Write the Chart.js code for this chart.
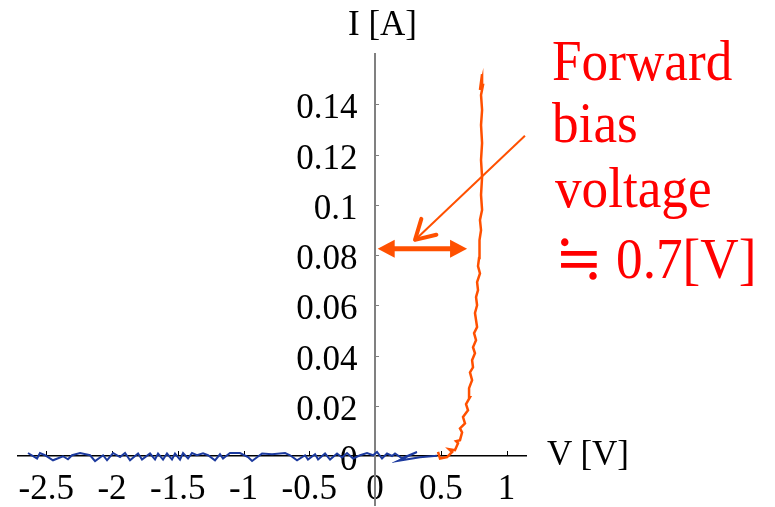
<!DOCTYPE html>
<html>
<head>
<meta charset="utf-8">
<script src="https://cdn.jsdelivr.net/npm/chart.js@4.4.0/dist/chart.umd.min.js"></script>
<style>
html,body{margin:0;padding:0;background:#fff;overflow:hidden;}
#wrap{position:relative;width:775px;height:507px;}
.lbl{position:absolute;font-family:"Liberation Serif","Times New Roman",serif;line-height:1;white-space:nowrap;}
.ax{font-size:35px;color:#000;}
.note{font-size:56px;color:#ff0000;transform:scaleX(0.95);transform-origin:0 0;}
.approx{font-family:"Noto Sans CJK JP","DejaVu Serif",serif;font-size:60px;line-height:0;}
</style>
</head>
<body>
<div id="wrap">
  <canvas id="ivChart"></canvas>
  <div class="lbl ax" style="left:348px;top:6px">I [A]</div>
  <div class="lbl ax" style="left:547px;top:436px">V [V]</div>
  <div class="lbl note" style="left:552px;top:33px">Forward</div>
  <div class="lbl note" style="left:552px;top:95px">bias</div>
  <div class="lbl note" style="left:555px;top:160px">voltage</div>
  <div class="lbl note" style="left:555px;top:231px"><span class="approx">≒</span> 0.7[V]</div>
</div>
<script>
// reverse sweep (blue): voltage [V] / current [A]
var revV = [-2.639,-2.570,-2.548,-2.510,-2.449,-2.373,-2.335,-2.304,-2.243,-2.167,
  -2.129,-2.068,-2.038,-1.992,-1.939,-1.901,-1.863,-1.802,-1.772,-1.711,
  -1.673,-1.650,-1.612,-1.582,-1.544,-1.521,-1.483,-1.460,-1.422,-1.392,
  -1.354,-1.308,-1.270,-1.217,-1.179,-1.156,-1.103,-1.027,-0.966,-0.935,
  -0.859,-0.783,-0.684,-0.646,-0.593,-0.532,-0.510,-0.456,-0.433,-0.380,
  -0.342,-0.289,-0.251,-0.213,-0.167,-0.114,-0.061,-0.015,0.015,0.053,
  0.091,0.129,0.152,0.205,0.319,0.175,0.342,0.471];
var revI = [0.0012,-0.0010,0.0012,0.0003,-0.0017,-0.0001,-0.0013,0.0003,0.0012,0.0003,
  -0.0020,0.0003,-0.0017,0.0012,-0.0004,0.0012,-0.0017,0.0010,-0.0014,0.0010,
  -0.0014,0.0010,-0.0014,0.0010,-0.0014,0.0010,-0.0014,0.0012,-0.0010,0.0012,
  0.0003,0.0011,0.0003,-0.0017,0.0007,-0.0010,0.0012,0.0012,-0.0004,-0.0020,
  0.0010,0.0007,0.0012,0.0003,-0.0017,0.0003,-0.0014,0.0007,-0.0014,0.0010,
  -0.0014,0.0010,-0.0006,0.0012,-0.0010,0.0003,0.0012,0.0003,0.0016,-0.0010,
  0.0010,0.0000,0.0010,-0.0009,0.0016,-0.0019,-0.0005,0.0001];

// forward sweep (orange)
var fwdV = [0.479,0.494,0.548,0.586,0.563,0.608,0.631,0.616,0.646,0.662,
  0.646,0.684,0.669,0.707,0.692,0.722,0.715,0.738,0.722,0.745,
  0.738,0.760,0.745,0.768,0.753,0.776,0.760,0.776,0.768,0.783,
  0.776,0.798,0.783,0.791,0.798,0.791,0.806,0.798,0.814,0.806,
  0.814,0.806,0.814,0.806,0.814,0.806,0.821,0.814,0.798,0.814];
var fwdI = [0.0016,-0.0010,-0.0004,0.0016,0.0027,0.0023,0.0051,0.0059,0.0063,0.0094,
  0.0110,0.0130,0.0155,0.0182,0.0206,0.0234,0.0270,0.0302,0.0333,0.0353,
  0.0381,0.0409,0.0433,0.0461,0.0489,0.0513,0.0569,0.0600,0.0632,0.0660,
  0.0692,0.0727,0.0756,0.0788,0.0819,0.0859,0.0899,0.0939,0.0979,0.1039,
  0.1110,0.1178,0.1246,0.1317,0.1377,0.1437,0.1477,0.1497,0.1457,0.1520];

var xTicks = [-2.5,-2,-1.5,-1,-0.5,0,0.5,1];
var yTicks = [0,0.02,0.04,0.06,0.08,0.1,0.12,0.14];

// annotation arrows, in data units
var spanArrow = {x0:0.02, x1:0.70, y:0.0825};
var pointArrow = {x0:1.14, y0:0.1275, x1:0.304, y1:0.086};

var ORANGE = '#ff5000';

function pairs(xs, ys){
  var out = [];
  for(var i=0;i<xs.length;i++){ out.push({x:xs[i], y:ys[i]}); }
  return out;
}

function solidHead(ctx, tx, ty, ang, len, half){
  var bx = tx - len*Math.cos(ang), by = ty - len*Math.sin(ang);
  ctx.beginPath();
  ctx.moveTo(tx, ty);
  ctx.lineTo(bx + half*Math.sin(ang), by - half*Math.cos(ang));
  ctx.lineTo(bx - half*Math.sin(ang), by + half*Math.cos(ang));
  ctx.closePath();
  ctx.fill();
}

var innerTicks = {
  id:'innerTicks',
  beforeDatasetsDraw: function(chart){
    var ctx = chart.ctx, xs = chart.scales.x, ys = chart.scales.y;
    var ax = xs.getPixelForValue(0), ay = ys.getPixelForValue(0);
    ctx.save();
    ctx.lineWidth = 1;
    ctx.strokeStyle = '#808080';
    for(var i=1;i<yTicks.length;i++){
      var py = Math.round(ys.getPixelForValue(yTicks[i])) + 0.5;
      ctx.beginPath(); ctx.moveTo(ax, py); ctx.lineTo(ax+4, py); ctx.stroke();
    }
    ctx.strokeStyle = '#000';
    for(var j=0;j<xTicks.length;j++){
      if(xTicks[j] === 0) continue;
      var px = Math.round(xs.getPixelForValue(xTicks[j])) + 0.5;
      ctx.beginPath(); ctx.moveTo(px, ay); ctx.lineTo(px, ay-5); ctx.stroke();
    }
    ctx.restore();
  }
};

var arrows = {
  id:'arrows',
  afterDatasetsDraw: function(chart){
    var ctx = chart.ctx, xs = chart.scales.x, ys = chart.scales.y;
    ctx.save();
    ctx.fillStyle = ORANGE;
    ctx.strokeStyle = ORANGE;

    // double-headed span arrow
    var a = xs.getPixelForValue(spanArrow.x0), b = xs.getPixelForValue(spanArrow.x1);
    var y = ys.getPixelForValue(spanArrow.y);
    ctx.lineWidth = 5;
    ctx.beginPath(); ctx.moveTo(a+12, y); ctx.lineTo(b-12, y); ctx.stroke();
    solidHead(ctx, a, y, Math.PI, 17, 9);
    solidHead(ctx, b, y, 0, 17, 9);

    // thin pointer with open head
    var sx = xs.getPixelForValue(pointArrow.x0), sy = ys.getPixelForValue(pointArrow.y0);
    var tx = xs.getPixelForValue(pointArrow.x1), ty = ys.getPixelForValue(pointArrow.y1);
    var ang = Math.atan2(ty-sy, tx-sx);
    ctx.lineWidth = 2;
    ctx.beginPath(); ctx.moveTo(sx, sy); ctx.lineTo(tx, ty); ctx.stroke();
    ctx.lineWidth = 4;
    ctx.lineCap = 'round';
    ctx.lineJoin = 'round';
    ctx.beginPath();
    ctx.moveTo(tx - 22*Math.cos(ang-0.52), ty - 22*Math.sin(ang-0.52));
    ctx.lineTo(tx, ty);
    ctx.lineTo(tx - 22*Math.cos(ang+0.52), ty - 22*Math.sin(ang+0.52));
    ctx.stroke();
    ctx.restore();
  }
};

function noPad(scale){
  scale.paddingLeft = 0; scale.paddingRight = 0;
  scale.paddingTop = 0; scale.paddingBottom = 0;
}

var tickFont = {family:'"Liberation Serif", "Times New Roman", serif', size:35};

new Chart(document.getElementById('ivChart').getContext('2d'), {
  type:'scatter',
  data:{
    datasets:[
      {label:'reverse', data:pairs(revV, revI), showLine:true, borderColor:'#1c3a9e',
        borderWidth:2, pointRadius:0, tension:0},
      {label:'forward', data:pairs(fwdV, fwdI), showLine:true, borderColor:ORANGE,
        borderWidth:2.5, pointRadius:0, tension:0}
    ]
  },
  options:{
    responsive:true,
    maintainAspectRatio:false,
    animation:false,
    layout:{padding:{left:18, right:249, top:54, bottom:2}},
    plugins:{legend:{display:false}, tooltip:{enabled:false}},
    scales:{
      x:{
        type:'linear', position:{y:0}, min:-2.715, max:1.148,
        afterFit:noPad,
        grid:{drawOnChartArea:false, drawTicks:false},
        border:{color:'#000', width:1.5},
        afterBuildTicks:function(s){ s.ticks = xTicks.map(function(v){ return {value:v}; }); },
        ticks:{color:'#000', font:tickFont, padding:13, maxRotation:0, autoSkip:false,
          callback:function(v){ return String(v); }}
      },
      y:{
        type:'linear', position:{x:0}, min:-0.0195, max:0.16,
        afterFit:noPad,
        grid:{drawOnChartArea:false, drawTicks:false},
        border:{color:'#808080', width:2},
        afterBuildTicks:function(s){ s.ticks = yTicks.map(function(v){ return {value:v}; }); },
        ticks:{color:'#000', font:tickFont, padding:0, labelOffset:5, autoSkip:false,
          callback:function(v){ return String(+v.toFixed(2)) + '\u2002'; }}
      }
    }
  },
  plugins:[innerTicks, arrows]
});
</script>
</body>
</html>
